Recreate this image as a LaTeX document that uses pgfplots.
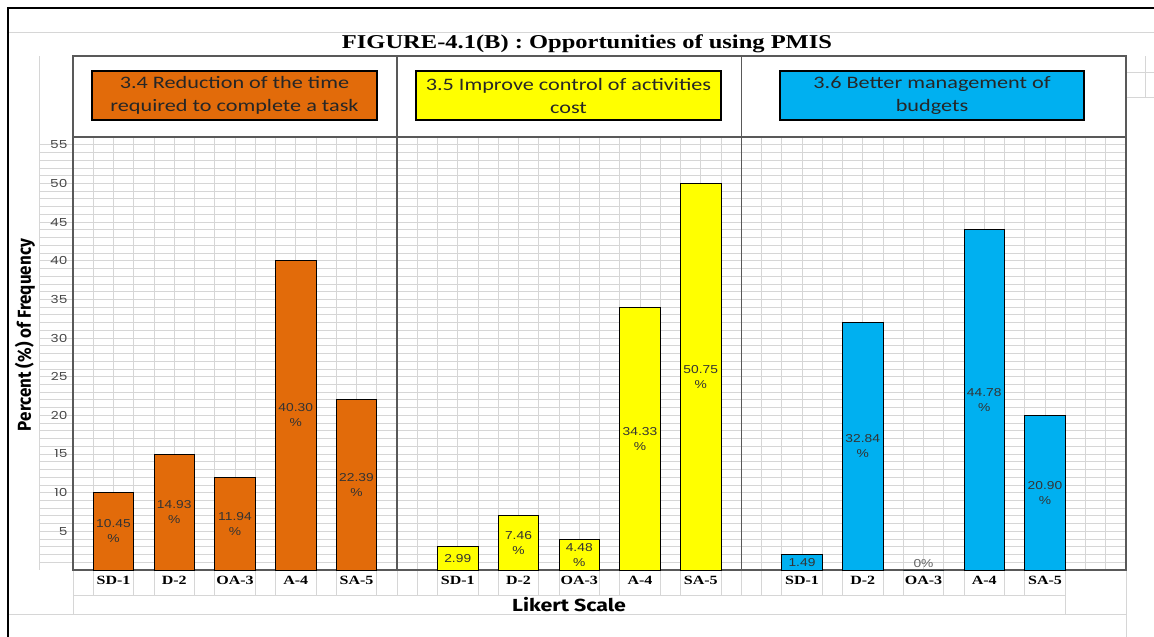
\documentclass[border=0pt]{standalone}
\usepackage{pgfplots}
\pgfplotsset{compat=1.18}
\usepackage{pgfplotstable}
\usepackage{fontspec}
\setmainfont{Liberation Sans}
\newfontfamily\titlefont[FakeStretch=1.25]{Liberation Serif Bold}
\newfontfamily\catfont[FakeStretch=1.27]{Liberation Serif Bold}
\newfontfamily\hdrfont[FakeStretch=1.27]{Carlito}
\newfontfamily\tickfont[FakeStretch=1.25]{Poppins}
\newfontfamily\valfont[FakeStretch=1.2]{Liberation Sans}
\newfontfamily\labfont{Fira Sans Bold}
\newfontfamily\labfontw[FakeStretch=1.22]{Fira Sans Bold}

\definecolor{orng}{RGB}{226,107,10}
\definecolor{ylw}{RGB}{255,255,0}
\definecolor{blu}{RGB}{0,176,240}
\definecolor{gridc}{RGB}{214,214,214}
\definecolor{framec}{RGB}{89,89,89}

% bar heights as drawn
\pgfplotstableread{
x h
0 10
3 15
6 12
9 40
12 22
}\panelA
\pgfplotstableread{
x h
17 3
20 7
23 4
26 34
29 50
}\panelB
\pgfplotstableread{
x h
34 2
37 32
40 0
43 44
46 20
}\panelC
% data labels (two lines: value and %)
\pgfplotstableread{
x y lab
0 5 10.45
3 7.5 14.93
6 6 11.94
9 20 40.30
12 11 22.39
20 3.5 7.46
23 2 4.48
26 17 34.33
29 25 50.75
37 16 32.84
43 22 44.78
46 10 20.90
}\twoline
\pgfplotstableread{
x y lab
17 1.5 2.99
34 1.0 1.49
}\oneline
\pgfplotstableread{
x y lab
40 0.9 0
}\zeroline

\begin{document}
\begin{tikzpicture}[x=1pt,y=1pt]
\path[use as bounding box, fill=white] (0,0) rectangle (1154,-637);

% spreadsheet background lines
\draw[gridc, line width=0.8pt] (8,-32) -- (1154,-32);
\draw[gridc, line width=0.8pt] (39,-56) -- (39,-570);
\foreach \k in {1,...,55} {
  \draw[gridc, line width=0.8pt] (39,{-570+\k*7.7321}) -- (73,{-570+\k*7.7321});
}
\draw[gridc, line width=0.8pt] (8,-614) -- (1126,-614);
\draw[gridc, line width=0.8pt] (73,-595) -- (1065,-595);
\draw[gridc, line width=0.8pt] (73,-570) -- (73,-614);
\draw[gridc, line width=0.8pt] (1065,-570) -- (1065,-614);
\draw[gridc, line width=0.8pt] (1126,-570) -- (1126,-637);
\draw[gridc, line width=0.8pt] (1126,-72) -- (1154,-72);
\draw[gridc, line width=0.8pt] (1126,-97) -- (1154,-97);
\draw[gridc, line width=0.8pt] (1145,-56) -- (1145,-97);
\foreach \c in {-1,1,2,4,5,7,8,10,11,13,14,15,16,18,19,21,22,24,25,27,28,30,31,32,33,35,36,38,39,41,42,44,45,47} {
  \draw[gridc, line width=0.8pt] ({73+(\c+2)*20.25},-570) -- ({73+(\c+2)*20.25},-595);
}

% outer frame
\draw[black, line width=1.3pt] (8,-637) -- (8,-8) -- (1154,-8);

% title
\node[font=\titlefont\fontsize{19.6}{22}\selectfont] at (587,-44) {FIGURE-4.1(B) : Opportunities of using PMIS};

% header strip
\draw[framec, line width=1.3pt] (73,-137) -- (73,-56) -- (1126,-56) -- (1126,-137);
\draw[framec, line width=1.3pt] (397,-56) -- (397,-137);
\draw[framec, line width=1.3pt] (741.25,-56) -- (741.25,-137);

\draw[black, line width=2.2pt, fill=orng] (92,-71) rectangle (377,-120);
\node[font=\hdrfont\fontsize{17.5}{23}\selectfont, align=center, text=black!85] at (234.5,-95.5) {3.4 Reduction of the time\\required to complete a task};
\draw[black, line width=2.2pt, fill=ylw] (416,-71) rectangle (721,-120);
\node[font=\hdrfont\fontsize{17.5}{23}\selectfont, align=center, text=black!85] at (568.5,-95.5) {3.5 Improve control of activities\\cost};
\draw[black, line width=2.2pt, fill=blu] (780,-71) rectangle (1084,-120);
\node[font=\hdrfont\fontsize{17.5}{23}\selectfont, align=center, text=black!85] at (932,-95.5) {3.6 Better management of\\budgets};

% axis labels
\node[rotate=90, font=\labfont\fontsize{17}{19}\selectfont] at (25,-335) {\scalebox{1}[1.1]{Percent (\%) of Frequency}};
\node[font=\labfontw\fontsize{17.5}{19}\selectfont] at (569,-605) {Likert Scale};

\begin{axis}[
  at={(73pt,-570pt)}, anchor=south west,
  scale only axis, width=1053pt, height=433pt,
  xmin=-2, xmax=50, ymin=0, ymax=56,
  xtick={0,3,6,9,12,17,20,23,26,29,34,37,40,43,46},
  xticklabels={SD-1,D-2,OA-3,A-4,SA-5,SD-1,D-2,OA-3,A-4,SA-5,SD-1,D-2,OA-3,A-4,SA-5},
  ytick={5,10,...,55},
  minor xtick={-1,0,...,49},
  minor ytick={1,2,...,55},
  grid=both,
  major grid style={gridc, line width=0.8pt},
  minor grid style={gridc, line width=0.8pt},
  major tick length=0pt, minor tick length=0pt,
  axis line style={framec, line width=1.3pt},
  /pgf/number format/assume math mode=true,
  yticklabel style={font=\tickfont\fontsize{11}{13}\selectfont, text=black!72, xshift=-2pt},
  xticklabel style={font=\catfont\fontsize{12.6}{14}\selectfont, yshift=-3pt},
  extra x ticks={14,31},
  extra x tick labels={},
  extra x tick style={grid=major, major grid style={framec, line width=1.3pt}},
  clip=false,
]
\addplot[ybar, bar width=2, bar shift=0pt, fill=orng, draw=black, line width=0.9pt] table[x=x, y=h] {\panelA};
\addplot[ybar, bar width=2, bar shift=0pt, fill=ylw, draw=black, line width=0.9pt] table[x=x, y=h] {\panelB};
\addplot[ybar, bar width=2, bar shift=0pt, fill=blu, draw=black, line width=0.9pt] table[x=x, y=h] {\panelC};

\addplot[draw=none, point meta=explicit symbolic,
  nodes near coords={\pgfplotspointmeta\\\%},
  every node near coord/.style={font=\valfont\fontsize{11.5}{15}\selectfont, align=center, anchor=center, text=black!80, inner sep=0pt}]
  table[x=x, y=y, meta=lab] {\twoline};
\addplot[draw=none, point meta=explicit symbolic,
  nodes near coords={\pgfplotspointmeta},
  every node near coord/.style={font=\valfont\fontsize{11.5}{15}\selectfont, anchor=center, text=black!80, inner sep=0pt}]
  table[x=x, y=y, meta=lab] {\oneline};
\addplot[draw=none, point meta=explicit symbolic,
  nodes near coords={\pgfplotspointmeta\%},
  every node near coord/.style={font=\valfont\fontsize{11.5}{15}\selectfont, anchor=center, text=black!60, inner sep=0pt}]
  table[x=x, y=y, meta=lab] {\zeroline};
\end{axis}
\end{tikzpicture}
\end{document}
